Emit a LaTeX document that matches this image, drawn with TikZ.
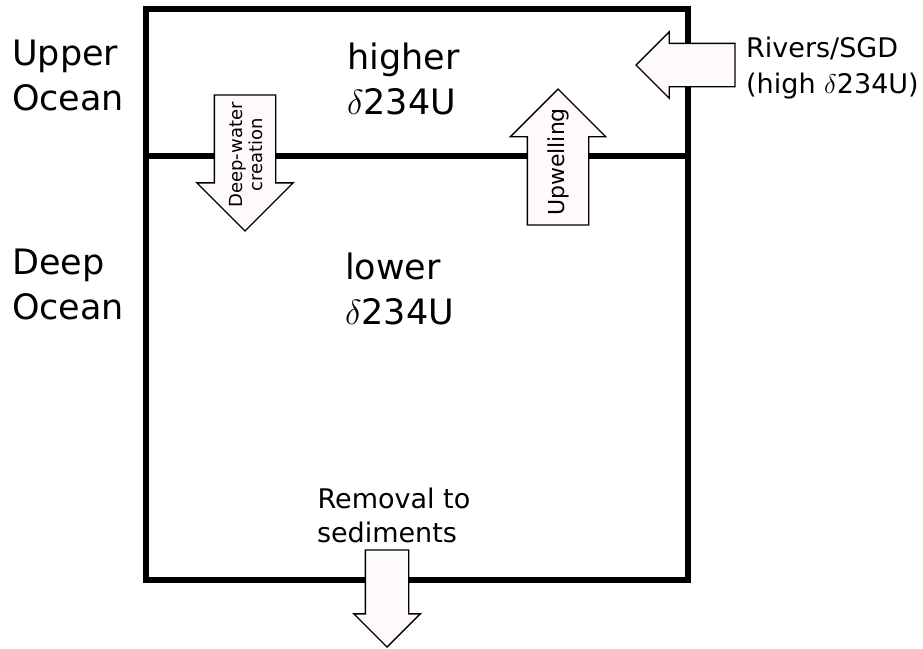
\RequirePackage{fix-cm}
\documentclass[tikz,border=0pt]{standalone}
\usepackage{fontspec}
\setmainfont{DejaVu Sans}
\usepackage{xcolor}
\usepackage{tikz}
\usetikzlibrary{arrows.meta,positioning,shapes.arrows}

\definecolor{arrowfill}{HTML}{FFFAFA}

\begin{document}
\begin{tikzpicture}[
    x=1pt, y=-1pt,
    wall/.style={line width=6pt},
    bigtext/.style={font=\fontsize{35}{45}\selectfont, inner sep=0pt},
    smalltext/.style={font=\fontsize{27}{35}\selectfont, inner sep=0pt},
    flux/.style={single arrow, draw, line width=1.4pt, fill=arrowfill,
                 inner xsep=0pt, outer sep=0pt, anchor=tail},
    fluxtext/.style={inner sep=0pt, rotate=90}
]
\useasboundingbox (0,0) rectangle (923,648);

% Ocean box and layer boundary
\draw[wall] (146,9) rectangle (688,580);
\draw[wall] (146,156) -- (688,156);

% Layer names
\node[bigtext, align=left, anchor=north west] (upperlbl) at (12,40) {Upper\\Ocean};
\node[bigtext, align=left, anchor=north west] (deeplbl)  at (12,249) {Deep\\Ocean};

% Reservoir contents
\node[bigtext, align=left, anchor=north west] (higher) at (347,43) {higher\\$\delta$234U};
\node[bigtext, align=left, anchor=north west] (lower)  at (345,253) {lower\\$\delta$234U};

% Fluxes
\node[flux, rotate=-90, minimum height=136pt, inner ysep=30pt,
      single arrow head extend=17.5pt] (dwarrow) at (245,95) {};
\node[flux, rotate=90, minimum height=136pt, inner ysep=30pt,
      single arrow head extend=17pt] (uparrow) at (558,225) {};
\node[flux, rotate=180, minimum height=99pt, inner ysep=21pt,
      single arrow head extend=11.5pt] (riverarrow) at (735,65) {};
\node[flux, rotate=-90, minimum height=97pt, inner ysep=21pt,
      single arrow head extend=11.5pt] (removalarrow) at (387,550) {};

\node[fluxtext, align=center, font=\fontsize{18}{20}\selectfont] (dwtxt) at (246,155) {Deep-water\\creation};
\node[fluxtext, font=\fontsize{22}{25}\selectfont] (uptxt) at (558,162) {Upwelling};

% Side labels
\node[smalltext, anchor=base west] (rivers) at (746,57) {Rivers/SGD};
\node[smalltext, anchor=base west] (riverssub) at (746,93) {(high $\delta$234U)};
\node[smalltext, anchor=base] (removal) at (394,508) {Removal to};
\node[smalltext, anchor=base] (removalsub) at (387,542) {sediments};

\end{tikzpicture}
\end{document}
